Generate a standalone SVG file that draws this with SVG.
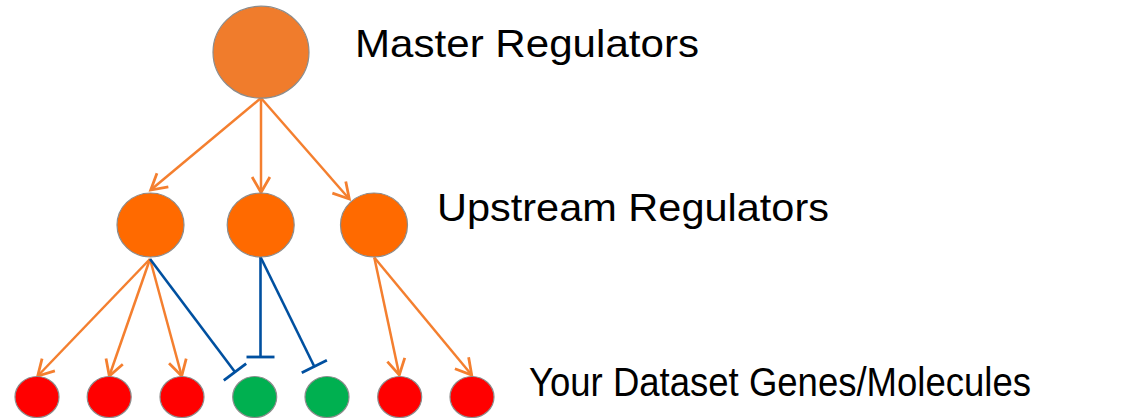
<svg xmlns="http://www.w3.org/2000/svg" width="1128" height="418" viewBox="0 0 1128 418">
<style>
.node{stroke:#8c8c8c;stroke-width:1.2}
.master{fill:#F07C2C}
.up{fill:#FF6A00}
.red{fill:#FF0000}
.green{fill:#00B050}
.act{stroke:#F47F2F;stroke-width:2.5;fill:none;marker-end:url(#arrow)}
.inh{stroke:#0050A0;stroke-width:2.6;fill:none;marker-end:url(#bar)}
.lbl{font-family:"Liberation Sans",Arial,sans-serif;font-size:39px;fill:#000}
</style>
<defs>
<marker id="arrow" markerUnits="userSpaceOnUse" markerWidth="20" markerHeight="20" viewBox="-1 -9 16 18" refX="14" refY="0" orient="auto" overflow="visible">
<path d="M0,-8 L14,0 L0,8" fill="none" stroke="#F47F2F" stroke-width="2.5"/>
</marker>
<marker id="bar" markerUnits="userSpaceOnUse" markerWidth="6" markerHeight="32" viewBox="-3 -16 6 32" refX="0" refY="0" orient="auto" overflow="visible">
<path d="M0,-14 L0,14" stroke="#0050A0" stroke-width="2.8"/>
</marker>
</defs>
<g id="connectors">
<line class="act" x1="261" y1="98" x2="150.7" y2="190"/>
<line class="act" x1="261" y1="98" x2="261" y2="192.5"/>
<line class="act" x1="261" y1="98" x2="349.3" y2="199"/>
<line class="act" x1="150" y1="259" x2="37.7" y2="376"/>
<line class="act" x1="150" y1="259" x2="109.3" y2="376"/>
<line class="act" x1="150" y1="259" x2="181.7" y2="376"/>
<line class="act" x1="374.3" y1="257.5" x2="399.3" y2="375"/>
<line class="act" x1="374.3" y1="257.5" x2="471.7" y2="375"/>
<line class="inh" x1="150" y1="259" x2="235" y2="372"/>
<line class="inh" x1="260.5" y1="257" x2="260.5" y2="357"/>
<line class="inh" x1="260.5" y1="257" x2="314.3" y2="366.5"/>
</g>
<g id="master"><ellipse class="node master" cx="261" cy="52.2" rx="48" ry="46"/></g>
<g id="up1"><ellipse class="node up" cx="150.5" cy="225" rx="33.5" ry="32"/></g>
<g id="up2"><ellipse class="node up" cx="260.7" cy="225" rx="33.5" ry="32"/></g>
<g id="up3"><ellipse class="node up" cx="374" cy="225" rx="33.5" ry="32"/></g>
<g id="g1"><ellipse class="node red" cx="37" cy="397" rx="22" ry="20.5"/></g>
<g id="g2"><ellipse class="node red" cx="109.2" cy="397" rx="22" ry="20.5"/></g>
<g id="g3"><ellipse class="node red" cx="182" cy="397" rx="22" ry="20.5"/></g>
<g id="g4"><ellipse class="node green" cx="254.7" cy="397" rx="22" ry="20.5"/></g>
<g id="g5"><ellipse class="node green" cx="327" cy="397" rx="22" ry="20.5"/></g>
<g id="g6"><ellipse class="node red" cx="399.7" cy="397" rx="22" ry="20.5"/></g>
<g id="g7"><ellipse class="node red" cx="472" cy="397" rx="22" ry="20.5"/></g>
<g id="labels">
<text class="lbl" x="355" y="57" textLength="344" lengthAdjust="spacingAndGlyphs">Master Regulators</text>
<text class="lbl" x="437" y="220.5" textLength="392" lengthAdjust="spacingAndGlyphs">Upstream Regulators</text>
<text class="lbl" x="529" y="396" textLength="502" lengthAdjust="spacingAndGlyphs" style="font-size:41px">Your Dataset Genes/Molecules</text>
</g>
</svg>
